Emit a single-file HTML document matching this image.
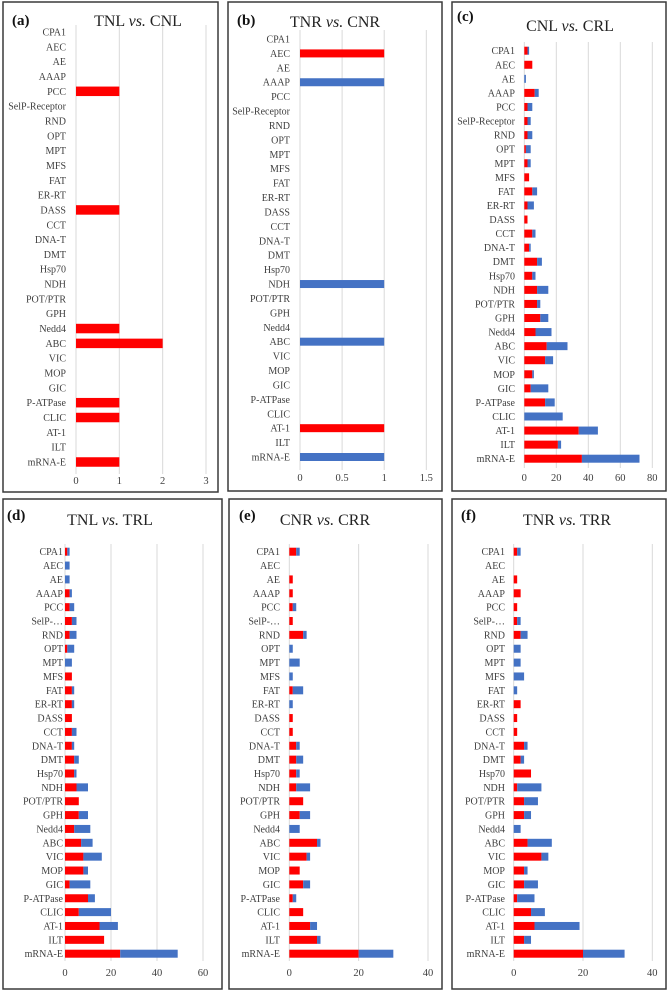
<!DOCTYPE html>
<html><head><meta charset="utf-8"><style>
html,body{margin:0;padding:0;background:#fff;}
svg{display:block;font-family:"Liberation Serif",serif;}
</style></head><body>
<svg id="chart" width="669" height="992" viewBox="0 0 669 992"></svg>
<script>
const categories=["CPA1","AEC","AE","AAAP","PCC","SelP-Receptor","RND","OPT","MPT","MFS","FAT","ER-RT","DASS","CCT","DNA-T","DMT","Hsp70","NDH","POT/PTR","GPH","Nedd4","ABC","VIC","MOP","GIC","P-ATPase","CLIC","AT-1","ILT","mRNA-E"];
const catShort=["CPA1","AEC","AE","AAAP","PCC","SelP-…","RND","OPT","MPT","MFS","FAT","ER-RT","DASS","CCT","DNA-T","DMT","Hsp70","NDH","POT/PTR","GPH","Nedd4","ABC","VIC","MOP","GIC","P-ATPase","CLIC","AT-1","ILT","mRNA-E"];
// (a) TNL vs CNL
const aRed=[0,0,0,0,1,0,0,0,0,0,0,0,1,0,0,0,0,0,0,0,1,2,0,0,0,1,1,0,0,1];
const aBlue=[0,0,0,0,0,0,0,0,0,0,0,0,0,0,0,0,0,0,0,0,0,0,0,0,0,0,0,0,0,0];
const aTicks=[0,1,2,3];
// (b) TNR vs CNR
const bRed=[0,1,0,0,0,0,0,0,0,0,0,0,0,0,0,0,0,0,0,0,0,0,0,0,0,0,0,1,0,0];
const bBlue=[0,0,0,1,0,0,0,0,0,0,0,0,0,0,0,0,0,1,0,0,0,1,0,0,0,0,0,0,0,1];
const bTicks=[0,0.5,1,1.5];
// (c) CNL vs CRL
const cRed=[2,5,0,6.5,2,2,2,1,2,3,5,2,2,5,3,8,5,8,8,10,7,14,13,5,4,13,0,34,21,36];
const cBlue=[1,0,1,2.5,3,2,3,3,2,0,3,4,0,2,1,3,2,7,2,5,10,13,5,1,11,6,24,12,2,36];
const cTicks=[0,20,40,60,80];
// (d) TNL vs TRL
const dRed=[1,0,0,2,2,3,2,1,0,3,3,3,3,3,3,4,4,5,6,6,4,7,8,8,2,10,6,15,17,24];
const dBlue=[1,2,2,1,2,2,3,3,3,0,1,1,0,2,1,2,1,5,0,4,7,5,8,2,9,3,14,8,0,25];
const dTicks=[0,20,40,60];
// (e) CNR vs CRR
const eRed=[2,0,1,1,1,1,4,0,0,0,1,0,1,1,2,2,2,2,4,3,0,8,5,3,4,1,4,6,8,20];
const eBlue=[1,0,0,0,1,0,1,1,3,1,3,1,0,0,1,2,1,4,0,3,3,1,1,0,2,1,0,2,1,10];
const eTicks=[0,20,40];
// (f) TNR vs TRR
const fRed=[1,0,1,2,1,1,2,0,0,0,0,2,1,1,3,2,5,1,3,3,0,4,8,3,3,1,5,6,3,20];
const fBlue=[1,0,0,0,0,1,2,2,2,3,1,0,0,0,1,1,0,7,4,2,2,7,2,1,4,5,4,13,2,12];
const fTicks=[0,20,40];

const NS="http://www.w3.org/2000/svg";
const svg=document.getElementById('chart');
function mk(tag,attrs,parent,text){const e=document.createElementNS(NS,tag);for(const k in attrs)e.setAttribute(k,attrs[k]);if(text!==undefined)e.textContent=text;parent.appendChild(e);return e;}

const panels=[
 {id:"a",title:"TNL",title2:"CNL",red:aRed,blue:aBlue,ticks:aTicks,labels:categories,box:[3,2,215,490],x0:76,x1:206,gTop:25,gBot:474,y0:32,y1:462,bh:9.5,lab:66,tx:138,ty:21,lx:12,ly:20,tickY:484},
 {id:"b",title:"TNR",title2:"CNR",red:bRed,blue:bBlue,ticks:bTicks,labels:categories,box:[228,2,214,489],x0:300,x1:426.3,gTop:30,gBot:470,y0:39,y1:457,bh:8,lab:290,tx:335,ty:22,lx:237,ly:20,tickY:481},
 {id:"c",title:"CNL",title2:"CRL",red:cRed,blue:cBlue,ticks:cTicks,labels:categories,box:[452,2,214,489],x0:524.3,x1:652.3,gTop:42,gBot:468,y0:50.7,y1:458.7,bh:8,lab:515,tx:570,ty:26,lx:457,ly:16,tickY:481},
 {id:"d",title:"TNL",title2:"TRL",red:dRed,blue:dBlue,ticks:dTicks,labels:catShort,box:[3,499,219,490],x0:65,x1:203,gTop:544,gBot:961,y0:551.7,y1:953.7,bh:8,lab:63,tx:110,ty:520,lx:7,ly:515,tickY:976},
 {id:"e",title:"CNR",title2:"CRR",red:eRed,blue:eBlue,ticks:eTicks,labels:catShort,box:[229,499,213,490],x0:289.3,x1:428,gTop:544,gBot:961,y0:551.7,y1:953.7,bh:8,lab:280,tx:325,ty:520,lx:239,ly:515,tickY:976},
 {id:"f",title:"TNR",title2:"TRR",red:fRed,blue:fBlue,ticks:fTicks,labels:catShort,box:[452,499,214,490],x0:513.7,x1:652.3,gTop:544,gBot:961,y0:551.7,y1:953.7,bh:8,lab:505,tx:567,ty:520,lx:461,ly:515,tickY:976}
];

panels.forEach(p=>{
  const g=mk('g',{},svg);
  
  
  const b=mk('rect',{x:p.box[0],y:p.box[1],width:p.box[2],height:p.box[3],fill:'#fff',stroke:'#3a3a3a','stroke-width':1.5},g);
  
  
  const tmax=p.ticks[p.ticks.length-1];
  const xs=v=>p.x0+(p.x1-p.x0)*v/tmax;
  const n=p.labels.length;
  const ys=i=>p.y0+(p.y1-p.y0)*i/(n-1);
  p.ticks.forEach(t=>{
    const l=mk('line',{x1:xs(t),x2:xs(t),y1:p.gTop,y2:p.gBot,stroke:'#d9d9d9','stroke-width':1},g);
    
    
    const tl=mk('text',{x:xs(t),y:p.tickY,'font-size':10.5,'text-anchor':'middle',fill:'#404040'},g,String(t));
    
    
  });
  p.labels.forEach((c,i)=>{
    const y=ys(i);
    const t=mk('text',{x:p.lab,y:y+3.5,'font-size':10,'text-anchor':'end',fill:'#404040'},g,c);
    
    
    if(p.red[i]>0){
      const r=mk('rect',{x:xs(0),y:y-p.bh/2,width:xs(p.red[i])-xs(0),height:p.bh,fill:'#ff0000'},g);
      
      
    }
    if(p.blue[i]>0){
      const r=mk('rect',{x:xs(p.red[i]),y:y-p.bh/2,width:xs(p.red[i]+p.blue[i])-xs(p.red[i]),height:p.bh,fill:'#4472c4'},g);
      
      
    }
  });
  const tt=mk('text',{x:p.tx,y:p.ty+5,'font-size':16,'text-anchor':'middle',fill:'#222'},g);
  
  
  mk('tspan',{},tt,p.title+' ');
  mk('tspan',{'font-style':'italic'},tt,'vs.');
  mk('tspan',{},tt,' '+p.title2);
  const lt=mk('text',{x:p.lx,y:p.ly+5,'font-size':15,'font-weight':'bold',fill:'#111'},g,'('+p.id+')');
  
  
});
</script>
</body></html>
